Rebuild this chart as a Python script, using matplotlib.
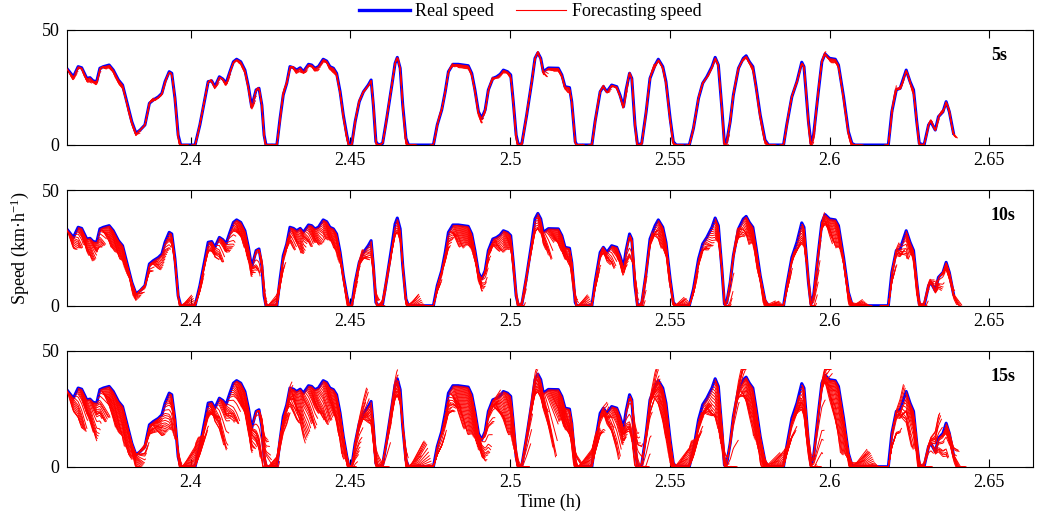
import numpy as np
import matplotlib
matplotlib.use("Agg")
import matplotlib.pyplot as plt
from matplotlib.collections import LineCollection

# real speed trace (time in h, speed in km/h)
time_h = [
    2.3612, 2.3633, 2.3648, 2.3659, 2.3675, 2.3685, 2.3695, 2.3706, 2.3716, 2.3727,
    2.3745, 2.3758, 2.3774, 2.3787, 2.3800, 2.3816, 2.3829, 2.3842, 2.3857, 2.3871,
    2.3883, 2.3899, 2.3910, 2.3920, 2.3933, 2.3941, 2.3951, 2.3961, 2.3969, 2.4014,
    2.4029, 2.4045, 2.4055, 2.4066, 2.4076, 2.4090, 2.4101, 2.4111, 2.4123, 2.4134,
    2.4144, 2.4157, 2.4170, 2.4181, 2.4191, 2.4205, 2.4214, 2.4223, 2.4230, 2.4236,
    2.4270, 2.4280, 2.4290, 2.4301, 2.4311, 2.4322, 2.4332, 2.4343, 2.4353, 2.4369,
    2.4379, 2.4389, 2.4400, 2.4415, 2.4426, 2.4436, 2.4447, 2.4457, 2.4468, 2.4478,
    2.4489, 2.4496, 2.4504, 2.4515, 2.4528, 2.4541, 2.4556, 2.4565, 2.4572, 2.4580,
    2.4588, 2.4601, 2.4614, 2.4630, 2.4640, 2.4647, 2.4656, 2.4664, 2.4674, 2.4682,
    2.4760, 2.4772, 2.4786, 2.4797, 2.4807, 2.4821, 2.4838, 2.4869, 2.4880, 2.4890,
    2.4901, 2.4911, 2.4922, 2.4932, 2.4946, 2.4958, 2.4969, 2.4979, 2.4992, 2.5002,
    2.5010, 2.5019, 2.5026, 2.5037, 2.5052, 2.5068, 2.5078, 2.5087, 2.5096, 2.5104,
    2.5120, 2.5151, 2.5162, 2.5172, 2.5186, 2.5193, 2.5204, 2.5209, 2.5256, 2.5266,
    2.5282, 2.5292, 2.5303, 2.5318, 2.5334, 2.5344, 2.5355, 2.5363, 2.5374, 2.5381,
    2.5391, 2.5399, 2.5412, 2.5426, 2.5438, 2.5454, 2.5464, 2.5478, 2.5488, 2.5501,
    2.5511, 2.5520, 2.5561, 2.5574, 2.5590, 2.5603, 2.5616, 2.5632, 2.5642, 2.5652,
    2.5663, 2.5671, 2.5678, 2.5689, 2.5699, 2.5715, 2.5730, 2.5739, 2.5749, 2.5760,
    2.5770, 2.5783, 2.5798, 2.5809, 2.5856, 2.5866, 2.5882, 2.5898, 2.5913, 2.5920,
    2.5934, 2.5942, 2.5950, 2.5965, 2.5976, 2.5986, 2.6000, 2.6018, 2.6028, 2.6044,
    2.6059, 2.6070, 2.6080, 2.6184, 2.6195, 2.6209, 2.6221, 2.6240, 2.6252, 2.6263,
    2.6273, 2.6281, 2.6296, 2.6310, 2.6317, 2.6331, 2.6341, 2.6355, 2.6365, 2.6375,
    2.6388,
]
speed = [
    33.3, 29.6, 34.0, 33.5, 28.9, 29.2, 27.8, 27.5, 33.3, 34.0,
    34.7, 32.5, 28.2, 26.0, 18.8, 10.1, 5.1, 6.5, 8.7, 18.1,
    19.5, 20.9, 22.4, 27.5, 31.8, 31.1, 20.3, 4.3, 0.0, 0.0,
    8.7, 20.3, 27.5, 27.8, 25.3, 29.6, 28.6, 26.8, 31.8, 36.1,
    37.2, 36.1, 32.5, 25.3, 16.6, 23.9, 24.6, 17.3, 4.3, 0.0,
    0.0, 11.6, 21.7, 26.8, 34.0, 33.5, 32.5, 33.5, 31.8, 35.0,
    34.7, 33.3, 34.0, 37.2, 36.4, 34.0, 33.3, 31.1, 23.1, 13.0,
    4.3, 0.0, 0.0, 10.1, 18.8, 23.1, 26.0, 28.2, 17.3, 1.4,
    0.0, 0.7, 11.6, 26.0, 35.4, 38.0, 33.3, 17.3, 2.9, 0.0,
    0.0, 8.7, 15.2, 23.1, 31.8, 35.0, 35.0, 34.4, 31.1, 23.9,
    14.4, 11.6, 15.2, 23.9, 28.9, 29.6, 30.7, 32.5, 31.8, 30.4,
    18.8, 4.3, 0.0, 0.7, 13.0, 27.5, 37.6, 40.0, 37.6, 31.8,
    33.4, 33.3, 30.4, 25.3, 24.9, 18.8, 1.4, 0.0, 0.0, 10.1,
    23.1, 25.3, 23.1, 26.0, 25.3, 21.7, 16.6, 23.9, 31.1, 28.9,
    8.7, 0.0, 0.7, 14.4, 28.9, 34.7, 37.2, 34.0, 27.5, 11.6,
    1.4, 0.0, 0.0, 7.2, 20.3, 26.8, 29.6, 34.0, 38.0, 34.7,
    15.9, 0.7, 1.2, 10.1, 21.7, 33.3, 37.6, 38.7, 36.1, 34.0,
    25.3, 13.0, 2.2, 0.0, 0.0, 8.7, 20.9, 27.5, 35.9, 34.0,
    10.1, 0.7, 4.3, 23.1, 36.1, 39.5, 37.6, 37.2, 34.7, 20.9,
    5.8, 0.7, 0.0, 0.0, 14.4, 23.9, 24.6, 32.5, 27.5, 23.9,
    10.1, 0.7, 0.0, 8.7, 10.1, 6.5, 12.3, 14.4, 18.8, 14.4,
    5.1,
]

horizons = [5, 10, 15]          # forecasting horizon of each panel, s
follow = [0.88, 0.72, 0.6]      # how closely the forecast tracks the real future
trend = [0.25, 0.3, 0.38]       # weight of the last observed acceleration
memory = [0.05, 0.2, 0.3]       # pull back towards the speed one horizon earlier
droop = [0.3, 0.8, 1.0]         # downward bias of the forecast, km/h per s
panel_labels = ["5s", "10s", "15s"]
xticks = [2.4, 2.45, 2.5, 2.55, 2.6, 2.65]
xtick_labels = ["2.4", "2.45", "2.5", "2.55", "2.6", "2.65"]
yticks = [0, 50]


def forecast_strands(t, v, horizon, a, b, c, d):
    # one forecast launched every second along the real trace
    t = np.asarray(t)
    v = np.asarray(v)
    k = np.arange(horizon + 1)
    starts = np.arange(t[0], t[-1], 1 / 3600)
    segs = []
    for t0 in starts:
        tt = t0 + k / 3600
        v0 = np.interp(t0, t, v)
        vt = np.interp(tt, t, v)
        s0 = (v0 - np.interp(t0 - 2 / 3600, t, v)) / 2
        vp = np.interp(t0 - horizon / 3600, t, v)
        vf = (v0 + a * (vt - v0) + b * s0 * k + c * (vp - v0) * k / horizon
              - d * k * min(v0, 35) / 35)
        segs.append(np.column_stack([tt, np.clip(vf, 0, 42)]))
    return segs


plt.rcParams['font.family'] = ['Liberation Serif', 'DejaVu Serif']
plt.rcParams['mathtext.fontset'] = 'custom'
plt.rcParams['mathtext.rm'] = 'Liberation Serif'

fig = plt.figure(figsize=(10.4, 5.24), dpi=100)
rects = [
    [0.0641, 0.7233, 0.9292, 0.2200],
    [0.0641, 0.4166, 0.9292, 0.2202],
    [0.0641, 0.1094, 0.9292, 0.2208],
]

axes = []
for i, (rect, lab) in enumerate(zip(rects, panel_labels)):
    ax = fig.add_axes(rect)
    ax.plot(time_h, speed, color='#0000ff', lw=2.2, zorder=2)
    segs = forecast_strands(time_h, speed, horizons[i], follow[i], trend[i],
                            memory[i], droop[i])
    lc = LineCollection(segs, colors='#ff0000', linewidths=0.7, zorder=3)
    ax.add_collection(lc)
    ax.set_xlim(2.3612, 2.6637)
    ax.set_ylim(0, 50)
    ax.set_xticks(xticks)
    ax.set_xticklabels(xtick_labels)
    ax.set_yticks(yticks)
    ax.tick_params(direction='in', top=True, right=True, length=6,
                   width=0.8, labelsize=13, pad=5)
    for sp in ax.spines.values():
        sp.set_linewidth(0.8)
    ax.text(2.6505, 39, lab, fontsize=13, fontweight='bold', va='center')
    axes.append(ax)

axes[1].set_ylabel('Speed (km·h$\\mathregular{^{-1}}$)', fontsize=13, labelpad=8)
axes[2].set_xlabel('Time (h)', fontsize=13, labelpad=2)

h1, = axes[0].plot([], [], color='#0000ff', lw=2.4)
h2, = axes[0].plot([], [], color='#ff0000', lw=0.8)
fig.legend([h1, h2], ['Real speed', 'Forecasting speed'], loc='center',
           bbox_to_anchor=(0.51, 0.978), ncol=2, frameon=False, fontsize=13,
           handlelength=2.8, handletextpad=0.3, columnspacing=1.2)

fig.savefig('out.png', dpi=100)
